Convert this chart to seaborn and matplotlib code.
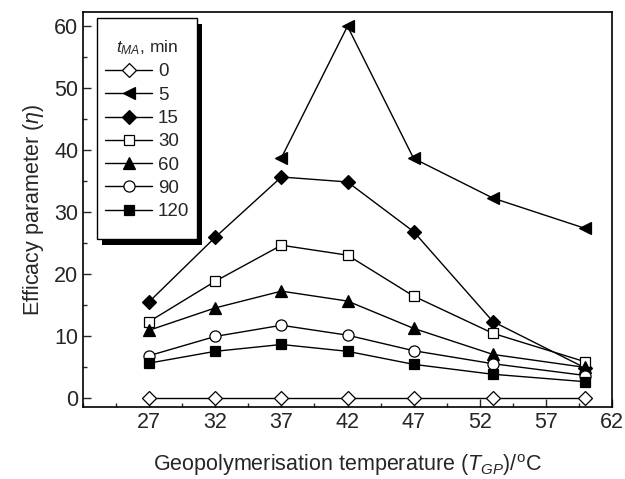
import numpy as np
import pandas as pd
import seaborn as sns
import matplotlib.pyplot as plt
from matplotlib.patches import Rectangle
from matplotlib.ticker import MultipleLocator

sns.set_style("ticks")
plt.rcParams['font.family'] = ['Liberation Sans', 'DejaVu Sans']
plt.rcParams['mathtext.fontset'] = 'custom'
plt.rcParams['mathtext.rm'] = 'Liberation Sans'
plt.rcParams['mathtext.it'] = 'Liberation Sans:italic'

# geopolymerisation temperature, degC
temps = [27, 32, 37, 42, 47, 53, 60]

# efficacy parameter per milling time t_MA (min)
eta_0 = [0, 0, 0, 0, 0, 0, 0]
eta_5 = [None, None, 38.7, 59.9, 38.6, 32.2, 27.3]
eta_15 = [15.5, 25.9, 35.6, 34.8, 26.8, 12.3, 4.8]
eta_30 = [12.3, 18.8, 24.6, 23.0, 16.4, 10.4, 5.8]
eta_60 = [10.9, 14.5, 17.2, 15.6, 11.2, 7.0, 4.9]
eta_90 = [6.8, 9.9, 11.7, 10.1, 7.6, 5.5, 3.6]
eta_120 = [5.6, 7.5, 8.6, 7.5, 5.4, 3.8, 2.6]

series_labels = ["0", "5", "15", "30", "60", "90", "120"]
series_values = [eta_0, eta_5, eta_15, eta_30, eta_60, eta_90, eta_120]

# marker, filled?
styles = {
    "0": ("D", False),
    "5": ("<", True),
    "15": ("D", True),
    "30": ("s", False),
    "60": ("^", True),
    "90": ("o", False),
    "120": ("s", True),
}
msizes = {"D": 7, "<": 9, "s": 7, "^": 8, "o": 8}

W, H = 625, 479
fig = plt.figure(figsize=(W / 100, H / 100), dpi=100)
ax = fig.add_axes([0.133, 0.150, 0.846, 0.825])

for lab, vals in zip(series_labels, series_values):
    df = pd.DataFrame({"T": temps, "eta": vals}).dropna()
    m, filled = styles[lab]
    sns.lineplot(data=df, x="T", y="eta", ax=ax, color="black", lw=1.0,
                 marker=m, markersize=msizes[m],
                 markerfacecolor="black" if filled else "white",
                 markeredgecolor="black", markeredgewidth=0.9,
                 label=lab, sort=False, errorbar=None)

ax.set_xlim(22, 62)
ax.set_ylim(-1.5, 62.2)
ax.set_xticks([27, 32, 37, 42, 47, 52, 57, 62])
ax.xaxis.set_minor_locator(MultipleLocator(2.5, offset=2))
ax.yaxis.set_major_locator(MultipleLocator(10))
ax.yaxis.set_minor_locator(MultipleLocator(5))
ax.tick_params(which="both", direction="in", top=False, right=False,
               labelsize=15.5, width=1)
ax.tick_params(which="major", length=6)
ax.tick_params(which="minor", length=3)
for sp in ax.spines.values():
    sp.set_visible(True)
    sp.set_linewidth(1.2)
    sp.set_color("black")

ax.set_xlabel("Geopolymerisation temperature ($T_{GP}$)/$^{\\mathrm{o}}$C",
              fontsize=15.5, labelpad=14)
ax.set_ylabel("Efficacy parameter ($\\eta$)", fontsize=15.5, labelpad=6)

leg = ax.legend(title="$t_{MA}$, min", loc="upper left",
                bbox_to_anchor=(0.0265, 0.952), borderaxespad=0,
                fontsize=13.5, title_fontsize=12.5, frameon=False,
                handlelength=2.55, handletextpad=0.3,
                labelspacing=0.33, borderpad=0.4)
leg.set_zorder(10)

# legend frame with taller top/bottom padding and a black drop shadow
fig.canvas.draw()
bb = leg.get_window_extent()
x0, x1 = bb.x0 / W, bb.x1 / W
y0, y1 = (bb.y0 - 11) / H, (bb.y1 + 12.5) / H
dx, dy = 5 / W, 6 / H
shadow = Rectangle((x0 + dx, y0 - dy), x1 - x0, y1 - y0,
                   transform=fig.transFigure, facecolor="black",
                   edgecolor="none", zorder=9, clip_on=False)
frame = Rectangle((x0, y0), x1 - x0, y1 - y0, transform=fig.transFigure,
                  facecolor="white", edgecolor="black", lw=1.0,
                  zorder=9.5, clip_on=False)
ax.add_artist(shadow)
ax.add_artist(frame)

fig.savefig("out.png", dpi=100)
